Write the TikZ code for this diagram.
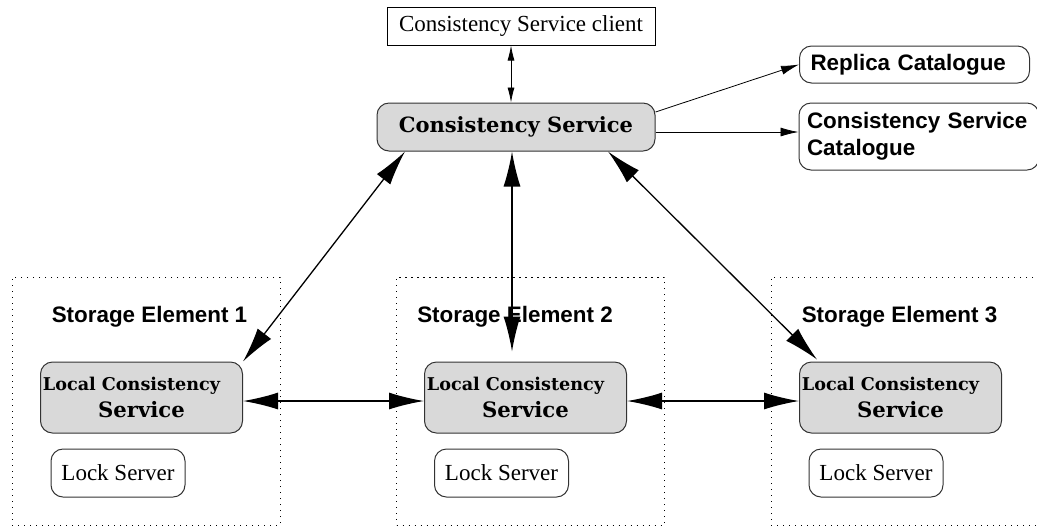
\documentclass[tikz,border=0pt]{standalone}
\usepackage{fontspec}
\usepackage{xcolor}
\usetikzlibrary{arrows.meta}
\newfontfamily\timesfont{Liberation Serif}
\newfontfamily\helvfont{Liberation Sans}
\newfontfamily\heavyserif{DejaVu Serif}
\definecolor{boxgrey}{RGB}{217,217,217}
\begin{document}
\begin{tikzpicture}[x=0.5pt,y=-0.5pt,
    bigarrow/.style={{Latex[length=17.5pt,width=8.5pt]}-{Latex[length=17.5pt,width=8.5pt]},line width=0.65pt},
    greybox/.style={draw=black!80,fill=boxgrey,rounded corners=6pt,line width=0.5pt},
    whitebox/.style={draw=black!80,rounded corners=6pt,line width=0.5pt},
    helvbold/.style={font=\helvfont\bfseries\fontsize{11.2}{13.5}\selectfont}]
  \useasboundingbox (0,0) rectangle (1037,527);
  \node at(521,26)[draw,line width=0.5pt,minimum width=134pt,minimum height=19pt,inner sep=0pt,font=\timesfont\fontsize{11.5}{13}\selectfont](client){Consistency Service client};
  \node at(516,127)[greybox,minimum width=139pt,minimum height=24pt,inner sep=0pt,font=\heavyserif\bfseries\fontsize{10.5}{14}\selectfont](cs){Consistency Service};
  \node at(914.5,64.5)[whitebox,helvbold,text width=104pt,inner xsep=5.5pt,inner ysep=0pt,minimum height=18.5pt,align=left](rc){Replica Catalogue};
  \node at(919,136.5)[whitebox,helvbold,text width=112pt,inner xsep=4pt,inner ysep=0pt,minimum height=33.5pt,align=left](csc){Consistency Service\\Catalogue};
  \foreach \sx/\lx/\kx/\tx[count=\i] in {146/141.5/118/149.5, 530.5/525.5/501.5/515, 905/900.5/876/899.5}
  {
    \node at(\sx,401)[draw,dash pattern=on 0.6pt off 2.4pt,line width=0.5pt,minimum width=134pt,minimum height=124pt](se\i){};
    \node at(\tx,317)[helvbold](setitle\i){Storage Element \i};
    \node at(\lx,397.5)[greybox,minimum width=101pt,minimum height=35.5pt,inner sep=0pt,align=center,font=\heavyserif\bfseries\fontsize{8.8}{13.5}\selectfont](lcs\i){Local Consistency\hspace*{10pt}\\\fontsize{10.6}{13.5}\selectfont Service};
    \node at(\kx,473)[whitebox,minimum width=67pt,minimum height=24pt,inner sep=0pt,font=\timesfont\fontsize{11.5}{13}\selectfont](lock\i){Lock Server};
  }
  \draw[{Latex[length=7.5pt,width=3.5pt]}-{Latex[length=7.5pt,width=3.5pt]},line width=0.4pt] ([xshift=-5pt]client.south) -- ([xshift=-2.5pt]cs.north);
  \draw[-{Latex[length=9pt,width=4.5pt]},line width=0.4pt] ([yshift=7.5pt]cs.east) -- (rc.west);
  \draw[-{Latex[length=9pt,width=4.5pt]},line width=0.4pt] ([yshift=-2.5pt]cs.east) -- ([yshift=2.25pt]csc.west);
  \draw[bigarrow] ([xshift=-55.5pt]cs.south) -- (lcs1.north east);
  \draw[bigarrow] ([xshift=-2pt]cs.south) -- ([xshift=-6.75pt,yshift=5pt]lcs2.north);
  \draw[bigarrow] ([xshift=46pt]cs.south) -- ([xshift=9pt,yshift=1pt]lcs3.north west);
  \draw[bigarrow] ([yshift=-1.75pt]lcs1.east) -- ([yshift=-1.75pt]lcs2.west);
  \draw[bigarrow] ([yshift=-1.75pt]lcs2.east) -- ([yshift=-1.75pt]lcs3.west);
\end{tikzpicture}
\end{document}
